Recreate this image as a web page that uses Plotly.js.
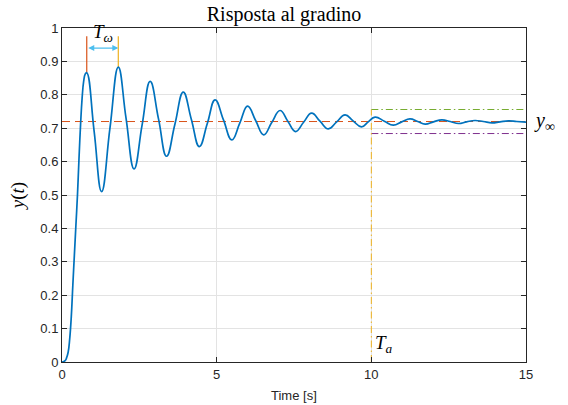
<!DOCTYPE html>
<html>
<head>
<meta charset="utf-8">
<script src="https://cdn.plot.ly/plotly-3.0.1.min.js"></script>
<style>html,body{margin:0;padding:0;background:#fff;}#chart{width:568px;height:405px;}</style>
</head>
<body>
<div id="chart"></div>
<script>
// Step response samples (time in s, output y)
var timeS = [0, 0.1, 0.15, 0.2, 0.25, 0.3, 0.35, 0.4, 0.45, 0.5, 0.55, 0.6, 0.65, 0.7, 0.75, 0.8,
  1.04, 1.28, 1.55, 1.82, 2.07, 2.33, 2.59, 2.85, 3.12, 3.38, 3.65, 3.92, 4.18, 4.44, 4.70, 4.95,
  5.22, 5.49, 5.75, 6.00, 6.26, 6.52, 6.78, 7.05, 7.30, 7.55, 7.81, 8.07, 8.34, 8.61, 8.88, 9.15,
  9.41, 9.68, 9.90, 10.12, 10.42, 10.71, 10.98, 11.25, 11.50, 11.74, 12.01, 12.28, 12.55, 12.82,
  13.08, 13.35, 13.62, 13.90, 14.16, 14.43, 14.70, 15.0];
var response = [0, 0.004, 0.013, 0.03, 0.07, 0.135, 0.23, 0.32, 0.41, 0.50, 0.61, 0.71, 0.79, 0.84, 0.862, 0.866,
  0.69, 0.51, 0.70, 0.883, 0.73, 0.578, 0.71, 0.84, 0.728, 0.616, 0.712, 0.808, 0.727, 0.645, 0.715, 0.785,
  0.725, 0.665, 0.716, 0.766, 0.723, 0.680, 0.717, 0.753, 0.721, 0.690, 0.718, 0.745, 0.721, 0.698, 0.719, 0.740,
  0.722, 0.704, 0.719, 0.733, 0.721, 0.709, 0.719, 0.728, 0.720, 0.712, 0.719, 0.725, 0.720, 0.714,
  0.719, 0.723, 0.720, 0.716, 0.719, 0.722, 0.720, 0.718];

var steadyValue = 0.72;
var bandLow = 0.684, bandHigh = 0.756;
var settlingTime = 10;
var peakTimes = [0.80, 1.82];
var peakValues = [0.866, 0.883];
var markerTop = 0.975;
var arrowLevel = 0.94;
var tEnd = 15;

var xTicks = [0, 5, 10, 15];
var yTicks = [0, 0.1, 0.2, 0.3, 0.4, 0.5, 0.6, 0.7, 0.8, 0.9, 1];
var yTickText = ['0', '0.1', '0.2', '0.3', '0.4', '0.5', '0.6', '0.7', '0.8', '0.9', '1'];

var traces = [
  {x: [0, tEnd], y: [steadyValue, steadyValue], mode: 'lines',
   line: {color: '#D95319', width: 1, dash: '8px,5px'}, hoverinfo: 'skip'},
  {x: [settlingTime, tEnd], y: [bandHigh, bandHigh], mode: 'lines',
   line: {color: '#77AC30', width: 1, dash: '7px,3px,1.5px,3px'}, hoverinfo: 'skip'},
  {x: [settlingTime, tEnd], y: [bandLow, bandLow], mode: 'lines',
   line: {color: '#7E2F8E', width: 1, dash: '7px,3px,1.5px,3px'}, hoverinfo: 'skip'},
  {x: [settlingTime, settlingTime], y: [0, bandHigh], mode: 'lines',
   line: {color: '#EDB120', width: 1, dash: '7px,3px,1.5px,3px'}, hoverinfo: 'skip'},
  {x: [peakTimes[0], peakTimes[0]], y: [peakValues[0], markerTop], mode: 'lines',
   line: {color: '#D95319', width: 1.2}, hoverinfo: 'skip'},
  {x: [peakTimes[1], peakTimes[1]], y: [peakValues[1], markerTop], mode: 'lines',
   line: {color: '#EDB120', width: 1.2}, hoverinfo: 'skip'},
  {x: timeS, y: response, mode: 'lines',
   line: {color: '#0072BD', width: 1.7, shape: 'spline', smoothing: 1.3}, hoverinfo: 'skip'}
];

var serif = 'Liberation Serif, serif';
var sans = 'Liberation Sans, Arial, sans-serif';
var layout = {
  width: 568, height: 405,
  margin: {l: 62, r: 42, t: 28, b: 43},
  paper_bgcolor: '#ffffff', plot_bgcolor: '#ffffff',
  showlegend: false,
  title: {text: 'Risposta al gradino', font: {family: serif, size: 20, color: '#000'},
          x: 0.5, xanchor: 'center', y: 0.965, yanchor: 'middle'},
  xaxis: {
    range: [0, tEnd], tickvals: xTicks, ticktext: xTicks.map(String),
    showgrid: true, gridcolor: '#e3e3e3', gridwidth: 1, zeroline: false,
    showline: true, linecolor: '#262626', linewidth: 1, mirror: 'ticks',
    ticks: 'inside', ticklen: 5, tickcolor: '#262626',
    tickfont: {family: sans, size: 13, color: '#262626'}
  },
  yaxis: {
    range: [0, 1], tickvals: yTicks, ticktext: yTickText,
    showgrid: true, gridcolor: '#e3e3e3', gridwidth: 1, zeroline: false,
    showline: true, linecolor: '#262626', linewidth: 1, mirror: 'ticks',
    ticks: 'inside', ticklen: 5, tickcolor: '#262626',
    tickfont: {family: sans, size: 13, color: '#262626'},
    title: {text: '<i>y</i>(<i>t</i>)', font: {family: serif, size: 19, color: '#000'}, standoff: 10}
  },
  annotations: [
    {x: 0.5, y: 0, xref: 'paper', yref: 'paper', yanchor: 'top', yshift: -24,
     text: 'Time [s]', showarrow: false, font: {family: sans, size: 13, color: '#262626'}},
    {x: peakTimes[1], y: arrowLevel, ax: peakTimes[0], ay: arrowLevel, xref: 'x', yref: 'y',
     axref: 'x', ayref: 'y', text: '', showarrow: true, arrowhead: 2, arrowside: 'end+start',
     arrowsize: 1, arrowwidth: 1.2, arrowcolor: '#4DBEEE', standoff: 0, startstandoff: 0},
    {x: (peakTimes[0] + peakTimes[1]) / 2, y: arrowLevel, xref: 'x', yref: 'y',
     text: '<i>T</i><sub><i>ω</i></sub>', showarrow: false, yanchor: 'bottom', yshift: 1,
     font: {family: serif, size: 19, color: '#000'}},
    {x: 1, y: steadyValue, xref: 'paper', yref: 'y', xanchor: 'left', xshift: 6,
     text: '<i>y</i><sub>∞</sub>', showarrow: false,
     font: {family: serif, size: 20, color: '#000'}},
    {x: settlingTime, y: 0.055, xref: 'x', yref: 'y', xanchor: 'left', xshift: 2,
     text: '<i>T</i><sub><i>a</i></sub>', showarrow: false,
     font: {family: serif, size: 19, color: '#000'}}
  ]
};

Plotly.newPlot('chart', traces, layout, {displayModeBar: false, staticPlot: true});
</script>
</body>
</html>
